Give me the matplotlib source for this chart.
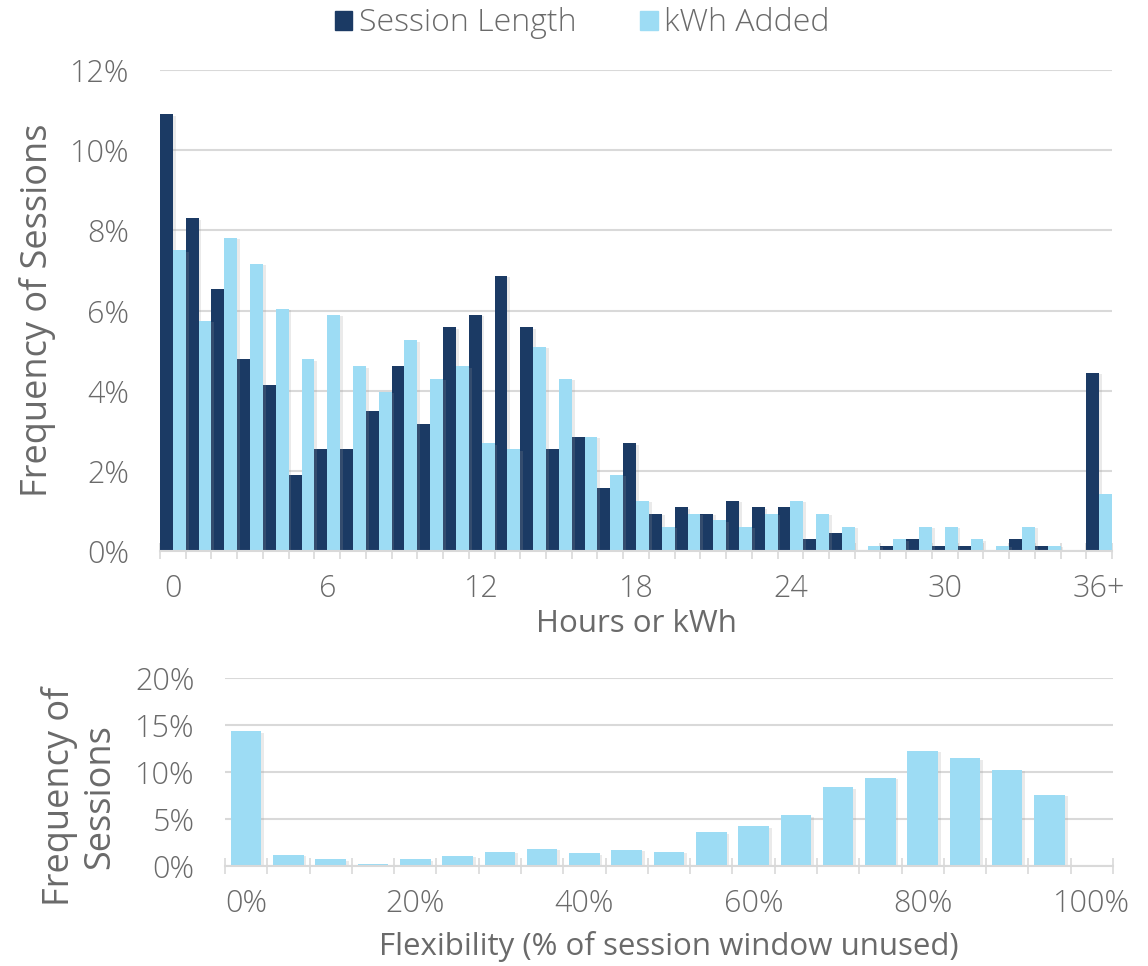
import matplotlib
matplotlib.use("Agg")
import matplotlib.pyplot as plt
import matplotlib.patheffects as pe
from matplotlib.ticker import PercentFormatter, FixedLocator
from matplotlib.patches import Patch
import numpy as np

plt.rcParams['font.family'] = ['Open Sans', 'DejaVu Sans']
plt.rcParams['font.weight'] = 'light'

# top chart: share of sessions per hour / kWh bucket (0 .. 36+)
hour_labels = [str(i) for i in range(36)] + ["36+"]
session_length = [10.9, 8.3, 6.54, 4.78, 4.14, 1.9, 2.54, 2.54, 3.49, 4.61,
                  3.18, 5.58, 5.9, 6.86, 5.58, 2.54, 2.85, 1.57, 2.69, 0.93,
                  1.09, 0.93, 1.25, 1.09, 1.09, 0.29, 0.46, 0.0, 0.13, 0.29,
                  0.13, 0.13, 0.0, 0.29, 0.13, 0.0, 4.45]
kwh_added = [7.5, 5.74, 7.82, 7.17, 6.05, 4.78, 5.9, 4.61, 3.97, 5.26,
             4.3, 4.61, 2.69, 2.54, 5.1, 4.3, 2.85, 1.9, 1.25, 0.61,
             0.93, 0.77, 0.61, 0.93, 1.25, 0.93, 0.61, 0.13, 0.29, 0.61,
             0.61, 0.29, 0.13, 0.61, 0.13, 0.0, 1.41]

# bottom chart: flexibility buckets 0%, 5%, ... 100%
flex_labels = ["%d%%" % p for p in range(0, 105, 5)]
flexibility = [14.35, 1.21, 0.71, 0.25, 0.71, 1.07, 1.53, 1.85, 1.36, 1.71,
               1.53, 3.57, 4.21, 5.39, 8.39, 9.39, 12.24, 11.46, 10.21, 7.6, 0.0]

dark = "#1b3a64"
light = "#9ddcf4"
grid_c = "#d9d9d9"
text_c = "#6a6a6a"
shadow = [pe.SimplePatchShadow(offset=(2, -1), shadow_rgbFace="#999999", alpha=0.2), pe.Normal()]

fig = plt.figure(figsize=(11.48, 9.66), dpi=100)

def style_axis(ax):
    for s in ["top", "right", "left"]:
        ax.spines[s].set_visible(False)
    ax.spines["bottom"].set_color(grid_c)
    ax.spines["bottom"].set_linewidth(1.5)
    ax.yaxis.grid(True, color=grid_c, linewidth=1.5)
    ax.set_axisbelow(True)
    ax.tick_params(axis="y", length=0, labelsize=22, labelcolor=text_c, pad=22)
    ax.tick_params(axis="x", which="major", length=0, labelsize=22, labelcolor=text_c, pad=16)
    ax.tick_params(axis="x", which="minor", direction="inout", length=12, width=1.2, color=grid_c)

# ---- top chart
ax1 = fig.add_axes([0.1394, 0.4296, 0.8293, 0.4979])
x = np.arange(len(hour_labels))
ax1.bar(x - 0.25, session_length, width=0.5, color=dark, path_effects=shadow, label="Session Length")
ax1.bar(x + 0.25, kwh_added, width=0.5, color=light, path_effects=shadow, label="kWh Added")
ax1.set_xlim(-0.5, len(hour_labels) - 0.5)
ax1.set_ylim(0, 12)
ax1.yaxis.set_major_locator(FixedLocator([0, 2, 4, 6, 8, 10, 12]))
ax1.yaxis.set_major_formatter(PercentFormatter(100, decimals=0))
ax1.set_xticks(x[::6])
ax1.set_xticklabels([hour_labels[i] for i in x[::6]])
ax1.xaxis.set_minor_locator(FixedLocator(np.arange(len(hour_labels) + 1) - 0.5))
style_axis(ax1)
ax1.set_xlabel("Hours or kWh", fontsize=22.5, color=text_c, labelpad=3)
ax1.set_ylabel("Frequency of Sessions", fontsize=26, color=text_c, labelpad=10)

handles = [Patch(color=dark, label="Session Length"), Patch(color=light, label="kWh Added")]
fig.legend(handles=handles, loc="upper center", bbox_to_anchor=(0.507, 1.022), ncol=2,
           frameon=False, fontsize=23, labelcolor=text_c, handlelength=0.55, handleheight=0.55,
           handletextpad=0.2, columnspacing=2.0)

# ---- bottom chart
ax2 = fig.add_axes([0.196, 0.1035, 0.7735, 0.1946])
xf = np.arange(len(flex_labels))
ax2.bar(xf, flexibility, width=0.72, color=light, path_effects=shadow)
ax2.set_xlim(-0.5, len(flex_labels) - 0.5)
ax2.set_ylim(0, 20)
ax2.yaxis.set_major_locator(FixedLocator([0, 5, 10, 15, 20]))
ax2.yaxis.set_major_formatter(PercentFormatter(100, decimals=0))
ax2.set_xticks(xf[::4])
ax2.set_xticklabels([flex_labels[i] for i in xf[::4]])
ax2.xaxis.set_minor_locator(FixedLocator(np.arange(len(flex_labels) + 1) - 0.5))
style_axis(ax2)
ax2.set_xlabel("Flexibility (% of session window unused)", fontsize=22.5, color=text_c, labelpad=8)
ax2.set_ylabel("Frequency of\nSessions", fontsize=26, color=text_c, labelpad=12, linespacing=1.15)
ax2.yaxis.label.set_y(0.37)

fig.savefig("out.png", dpi=100)
